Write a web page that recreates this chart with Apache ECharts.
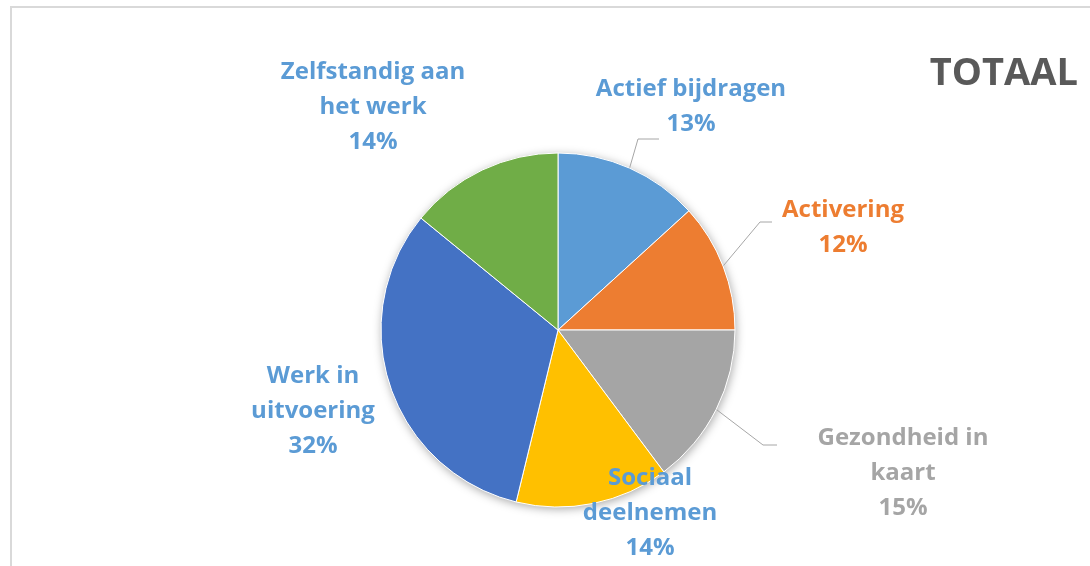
<!DOCTYPE html>
<html>
<head>
<meta charset="utf-8">
<script src="https://cdn.jsdelivr.net/npm/echarts@6/dist/echarts.min.js"></script>
<style>
  html, body { margin: 0; padding: 0; background: #fff; overflow: hidden; }
  #frame { position: absolute; left: 10px; top: 6px; right: -10px; bottom: -10px; border: 2px solid #d9d9d9; }
  #chart { position: absolute; left: 0; top: 0; width: 1090px; height: 566px; }
</style>
</head>
<body>
<div id="frame"></div>
<div id="chart"></div>
<script>
// categories (clockwise from the top) and their share
var categories = ['Actief bijdragen', 'Activering', 'Gezondheid in\nkaart', 'Sociaal\ndeelnemen', 'Werk in\nuitvoering', 'Zelfstandig aan\nhet werk']
var values = [13.25, 11.75, 14.8, 14.0, 32.1, 14.1]

var sliceColors = ['#5B9BD5', '#ED7D31', '#A5A5A5', '#FFC000', '#4472C4', '#70AD47']
var labelColors = ['#5B9BD5', '#ED7D31', '#A5A5A5', '#5B9BD5', '#5B9BD5', '#5B9BD5']
var showLine = [true, true, true, false, false, false]

// label block centres and leader line bends (Excel style placement)
var labelPos = [[691, 106], [843, 227], [903, 472], [650, 512], [313, 410], [373, 106]]
var lineBends = [[[638, 139], [659, 139]], [[760, 222], [772, 222]], [[763, 445], [777, 445]], null, null, null]

var chart = echarts.init(document.getElementById('chart'))

var pieData = categories.map(function (name, i) {
  return {
    name: name,
    value: values[i],
    itemStyle: { color: sliceColors[i] },
    label: { color: labelColors[i] },
    labelLine: { show: showLine[i] }
  }
})

var option = {
  animation: false,
  title: {
    text: 'TOTAAL',
    right: 7,
    top: 50,
    textStyle: { fontFamily: 'Open Sans', fontWeight: 'bold', fontSize: 38, color: '#595959' }
  },
  series: [
    {
      // soft shadow behind the whole pie
      type: 'pie',
      silent: true,
      center: [558, 330],
      radius: 177,
      label: { show: false },
      labelLine: { show: false },
      itemStyle: { color: '#fff', shadowBlur: 10, shadowColor: 'rgba(0,0,0,0.35)', shadowOffsetX: 1, shadowOffsetY: 2 },
      data: [{ value: 1, name: '' }],
      z: 1
    },
    {
      type: 'pie',
      center: [558, 330],
      radius: 177,
      startAngle: 90,
      clockwise: true,
      z: 2,
      itemStyle: { borderColor: '#fff', borderWidth: 1 },
      label: {
        show: true,
        position: 'outside',
        fontFamily: 'Open Sans',
        fontWeight: 'bold',
        fontSize: 24,
        lineHeight: 35,
        align: 'center',
        formatter: function (p) {
          return p.name + '\n' + Math.round(p.percent) + '%'
        }
      },
      labelLine: {
        show: true,
        lineStyle: { color: '#A6A6A6', width: 1 }
      },
      labelLayout: function (params) {
        var i = params.dataIndex
        var res = {
          x: labelPos[i][0],
          y: labelPos[i][1] + 1,
          align: 'center',
          verticalAlign: 'middle'
        }
        if (lineBends[i] && params.labelLinePoints) {
          res.labelLinePoints = [params.labelLinePoints[0], lineBends[i][0], lineBends[i][1]]
        }
        return res
      },
      data: pieData
    }
  ]
}

chart.setOption(option)
</script>
</body>
</html>
